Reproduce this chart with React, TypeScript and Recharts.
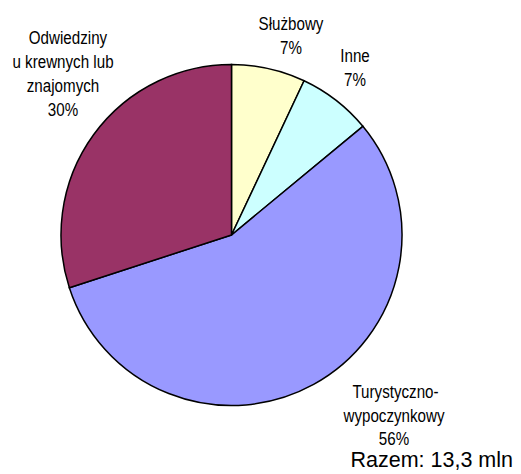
import React from 'react';
import { PieChart, Pie, Cell } from 'recharts';

const categories = ['Służbowy', 'Inne', 'Turystyczno-wypoczynkowy', 'Odwiedziny u krewnych lub znajomych'];
const shares = [7, 7, 56, 30];
const labelNameLines = [
  ['Służbowy'],
  ['Inne'],
  ['Turystyczno-', 'wypoczynkowy'],
  ['Odwiedziny', 'u krewnych lub', 'znajomych'],
];
const colors = ['#FFFFCC', '#CCFFFF', '#9999FF', '#993366'];
const totalLabel = 'Razem: 13,3 mln';

// label layout (center x, first baseline y, line height, first-line x nudge)
const labelLayout = [
  { x: 291, y: 29.5, lh: 24, dx0: 0 },
  { x: 355, y: 62, lh: 24, dx0: 0 },
  { x: 394, y: 398, lh: 23.5, dx0: 1.5 },
  { x: 63, y: 43.5, lh: 24, dx0: 5 },
];

const data = categories.map((name, i) => ({ name, value: shares[i] }));

const FONT = '"Liberation Sans", Arial, Helvetica, sans-serif';

const renderLabel = (props: any) => {
  const i = props.index;
  const lay = labelLayout[i];
  const lines = [...labelNameLines[i], `${shares[i]}%`];
  return (
    <g key={`lbl-${i}`}>
      {lines.map((t, j) => (
        <text
          key={j}
          transform={`translate(${lay.x + (j === 0 ? lay.dx0 : 0)},${lay.y + j * lay.lh}) scale(0.82,1)`}
          textAnchor="middle"
          fontFamily={FONT}
          fontSize={18.5}
          fill="#000"
        >
          {t}
        </text>
      ))}
    </g>
  );
};

export default function App() {
  return (
    <div style={{ position: 'absolute', left: 0, top: 0, width: 521, height: 474, background: '#fff' }}>
      <PieChart width={521} height={474} margin={{ top: 0, right: 0, bottom: 0, left: 0 }}>
        <Pie
          data={data}
          dataKey="value"
          nameKey="name"
          cx={231.5}
          cy={235}
          outerRadius={170.5}
          startAngle={90}
          endAngle={-270}
          stroke="#000"
          strokeWidth={1.5}
          label={renderLabel}
          labelLine={false}
          isAnimationActive={false}
        >
          {data.map((d, i) => (
            <Cell key={d.name} fill={colors[i]} />
          ))}
        </Pie>
        <text x={513} y={467} textAnchor="end" fontFamily={FONT} fontSize={21.5} fill="#000">
          {totalLabel}
        </text>
      </PieChart>
    </div>
  );
}
